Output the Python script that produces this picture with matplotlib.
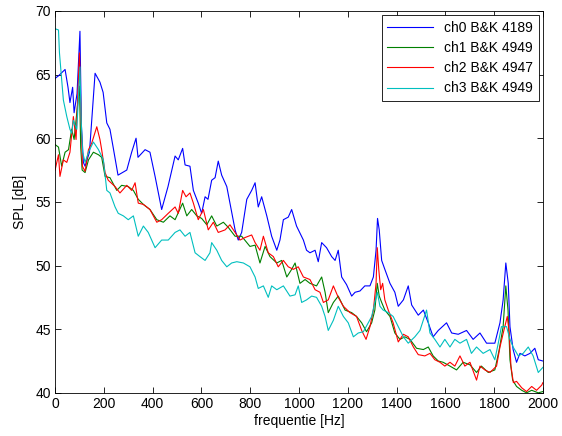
import numpy as np
import matplotlib
matplotlib.use("Agg")
import matplotlib.pyplot as plt

# (frequency in Hz, level in dB)
f_ch0 = [0, 14, 41, 53, 61, 72, 78, 90, 102, 108, 116, 123, 141, 164, 184, 197, 212, 225, 238,
         258, 294, 314, 332, 340, 369, 389, 410, 437, 463, 492, 505, 523, 533, 553, 567, 587,
         601, 615, 627, 642, 656, 669, 683, 704, 717, 738, 751, 765, 786, 806, 820, 833, 847,
         868, 888, 909, 922, 936, 956, 970, 990, 1018, 1031, 1045, 1066, 1079, 1093, 1113,
         1134, 1148, 1161, 1175, 1195, 1216, 1230, 1250, 1270, 1291, 1305, 1316, 1322, 1329,
         1339, 1352, 1373, 1393, 1407, 1428, 1448, 1462, 1489, 1510, 1530, 1550, 1571, 1605,
         1626, 1653, 1687, 1714, 1742, 1769, 1803, 1824, 1837, 1848, 1858, 1865, 1878, 1892,
         1906, 1926, 1947, 1967, 1981, 2000]
spl_ch0 = [64.7, 64.9, 65.4, 64.0, 62.8, 64.0, 62.0, 63.5, 68.4, 61.0, 58.1, 57.8, 58.9, 65.1,
           64.4, 63.6, 61.2, 60.7, 59.3, 57.1, 57.5, 58.9, 60.0, 58.5, 59.1, 58.9, 57.0, 54.4,
           56.2, 58.6, 58.3, 59.2, 57.9, 57.8, 55.9, 54.9, 54.1, 55.4, 55.2, 56.7, 56.9, 58.2,
           57.1, 56.2, 54.9, 52.8, 52.0, 52.6, 55.2, 55.9, 56.5, 54.6, 55.4, 53.9, 52.3, 51.2,
           52.0, 53.6, 53.8, 54.4, 53.1, 52.0, 51.2, 51.0, 51.2, 50.3, 51.8, 51.4, 50.7, 50.4,
           51.2, 49.1, 48.5, 47.6, 47.9, 48.0, 48.4, 48.4, 49.1, 51.2, 53.7, 52.8, 50.4, 49.7,
           48.6, 47.9, 46.8, 47.3, 48.4, 46.9, 46.1, 46.5, 45.5, 44.4, 44.9, 45.5, 44.7, 44.6,
           44.9, 44.2, 44.7, 43.9, 43.9, 45.5, 47.3, 50.2, 48.6, 45.2, 43.4, 42.4, 43.1, 42.9,
           43.1, 43.5, 42.6, 42.5]

f_ch1 = [0, 14, 27, 41, 55, 68, 78, 89, 100, 105, 111, 123, 137, 157, 178, 191, 205, 225, 253,
         273, 300, 321, 341, 362, 389, 417, 444, 471, 492, 523, 540, 560, 581, 601, 622, 642,
         663, 690, 710, 738, 765, 799, 820, 840, 861, 881, 909, 929, 950, 970, 984, 1004, 1025,
         1045, 1072, 1093, 1107, 1120, 1141, 1161, 1189, 1216, 1236, 1257, 1277, 1298, 1311,
         1321, 1329, 1339, 1352, 1373, 1393, 1414, 1434, 1455, 1482, 1510, 1530, 1550, 1571,
         1591, 1619, 1646, 1673, 1701, 1728, 1748, 1776, 1803, 1821, 1837, 1848, 1857, 1865,
         1876, 1892, 1913, 1933, 1954, 1981, 2000]
spl_ch1 = [59.5, 59.3, 57.8, 58.9, 59.1, 60.7, 59.9, 62.0, 64.1, 59.3, 57.5, 57.3, 58.3, 58.9,
           58.7, 58.5, 57.0, 56.9, 55.9, 56.3, 56.2, 55.9, 55.2, 54.8, 54.4, 53.6, 53.4, 53.9,
           53.6, 54.9, 53.9, 54.4, 53.9, 53.7, 53.2, 53.9, 53.1, 53.4, 53.0, 52.3, 52.3, 51.5,
           51.6, 50.2, 51.5, 50.7, 50.2, 50.4, 49.1, 49.7, 50.2, 48.6, 48.9, 48.6, 48.4, 49.1,
           47.9, 46.3, 47.1, 47.6, 46.5, 46.3, 46.0, 45.5, 44.8, 45.5, 46.5, 48.6, 47.6, 47.1,
           46.5, 46.0, 44.7, 44.2, 44.4, 44.2, 43.5, 43.4, 43.6, 42.9, 42.5, 42.4, 42.1, 41.8,
           42.4, 42.2, 41.6, 42.1, 41.6, 41.8, 43.4, 45.2, 48.4, 46.5, 42.6, 41.0, 40.5, 40.2,
           40.0, 40.2, 40.0, 40.1]

f_ch2 = [0, 14, 20, 34, 48, 61, 75, 86, 100, 105, 112, 123, 137, 150, 171, 184, 191, 205, 218,
         246, 266, 294, 314, 328, 341, 362, 389, 417, 437, 464, 492, 505, 523, 537, 553, 567,
         587, 608, 628, 649, 669, 697, 717, 738, 758, 779, 806, 820, 840, 854, 874, 895, 915,
         936, 956, 977, 997, 1018, 1045, 1066, 1086, 1100, 1120, 1141, 1161, 1182, 1209, 1236,
         1257, 1275, 1291, 1305, 1316, 1321, 1327, 1335, 1343, 1352, 1366, 1386, 1407, 1428,
         1448, 1469, 1489, 1516, 1537, 1557, 1578, 1598, 1619, 1639, 1660, 1680, 1701, 1728,
         1742, 1762, 1783, 1810, 1824, 1840, 1854, 1862, 1869, 1879, 1892, 1913, 1933, 1954,
         1974, 1995, 2000]
spl_ch2 = [57.5, 58.7, 57.0, 58.3, 58.1, 58.9, 61.7, 59.9, 66.7, 62.8, 57.8, 57.4, 59.1, 59.6,
           60.9, 59.9, 59.1, 57.3, 56.7, 56.2, 55.7, 56.3, 55.9, 56.5, 54.9, 54.8, 54.4, 53.4,
           53.6, 54.1, 54.6, 54.1, 55.9, 55.4, 55.7, 54.9, 53.6, 54.4, 52.8, 53.4, 52.6, 52.8,
           53.2, 52.6, 52.0, 52.2, 52.4, 51.8, 51.2, 52.3, 51.0, 50.7, 49.9, 50.4, 49.9, 49.7,
           49.9, 49.1, 48.9, 48.1, 47.9, 47.1, 47.3, 48.4, 47.5, 46.8, 46.3, 46.0, 44.9, 44.2,
           45.2, 46.5, 48.6, 51.4, 49.7, 48.1, 48.6, 47.3, 46.5, 45.5, 44.0, 44.6, 44.4, 43.6,
           43.0, 42.9, 43.1, 42.6, 42.4, 42.1, 42.4, 42.1, 42.9, 42.1, 42.4, 41.0, 42.1, 41.8,
           41.6, 42.1, 43.6, 44.9, 46.0, 44.7, 42.1, 40.8, 40.9, 40.4, 40.1, 40.5, 40.2, 40.6,
           40.8]

f_ch3 = [0, 14, 18, 27, 34, 48, 61, 68, 75, 89, 102, 107, 113, 123, 137, 157, 178, 198, 212,
         225, 246, 259, 280, 300, 321, 341, 362, 382, 410, 437, 464, 492, 512, 533, 553, 574,
         594, 615, 635, 642, 663, 683, 704, 724, 745, 772, 799, 820, 833, 854, 874, 888, 909,
         936, 963, 984, 997, 1011, 1031, 1052, 1072, 1093, 1107, 1120, 1141, 1161, 1182, 1202,
         1223, 1243, 1264, 1284, 1298, 1311, 1321, 1332, 1345, 1366, 1386, 1407, 1428, 1448,
         1475, 1496, 1523, 1537, 1557, 1578, 1598, 1619, 1639, 1660, 1687, 1707, 1728, 1755,
         1783, 1803, 1817, 1830, 1851, 1865, 1878, 1899, 1919, 1940, 1960, 1981, 2000]
spl_ch3 = [68.6, 68.5, 66.7, 64.6, 63.0, 61.7, 60.7, 60.4, 61.4, 60.7, 65.6, 61.4, 58.9, 58.1,
           58.9, 59.7, 59.1, 58.3, 55.9, 55.7, 54.6, 54.1, 53.9, 53.6, 53.9, 52.3, 53.1, 52.6,
           51.4, 52.0, 52.0, 52.6, 52.8, 52.3, 52.6, 51.0, 50.7, 50.4, 51.0, 51.8, 51.2, 50.4,
           49.9, 50.2, 50.3, 50.2, 49.9, 49.1, 48.2, 48.4, 47.5, 48.4, 48.1, 48.4, 47.6, 47.7,
           48.4, 47.1, 47.3, 47.6, 47.5, 46.8, 46.0, 44.9, 45.7, 46.8, 46.0, 45.5, 44.4, 44.7,
           44.8, 45.5, 46.0, 47.1, 47.9, 46.8, 46.5, 46.3, 46.0, 45.2, 44.4, 43.9, 44.4, 44.9,
           46.5, 44.7, 44.2, 43.6, 44.2, 43.6, 44.2, 43.9, 44.2, 43.1, 43.6, 43.1, 43.4, 42.6,
           43.9, 45.2, 45.2, 44.2, 43.6, 42.9, 43.1, 43.6, 42.9, 41.6, 42.0]

labels = ["ch0 B&K 4189", "ch1 B&K 4949", "ch2 B&K 4947", "ch3 B&K 4949"]
colors = ["#0000ff", "#008000", "#ff0000", "#00bfbf"]

plt.rcParams["font.family"] = ["Liberation Sans", "DejaVu Sans"]
plt.rcParams["font.size"] = 10

fig = plt.figure(figsize=(5.62, 4.36), dpi=100)
ax = fig.add_axes([0.098, 0.099, 0.868, 0.876])

series = [(f_ch0, spl_ch0), (f_ch1, spl_ch1), (f_ch2, spl_ch2), (f_ch3, spl_ch3)]
for (f, s), lab, c in zip(series, labels, colors):
    ax.plot(f, s, color=c, lw=0.8, label=lab)

ax.set_xlim(0, 2000)
ax.set_ylim(40, 70)
ax.set_xticks(np.arange(0, 2001, 200))
ax.set_yticks(np.arange(40, 71, 5))
ax.tick_params(direction="in", top=True, right=True, length=4, width=0.6, pad=3)
for sp in ax.spines.values():
    sp.set_linewidth(0.6)

ax.set_xlabel("frequentie [Hz]", labelpad=2)
ax.set_ylabel("SPL [dB]", labelpad=6)

leg = ax.legend(loc="upper right", fancybox=False, edgecolor="black", framealpha=1,
                handlelength=3.3, borderaxespad=0.3, labelspacing=0.45, fontsize=10)
leg.get_frame().set_linewidth(0.6)

fig.savefig("out.png", dpi=100)
